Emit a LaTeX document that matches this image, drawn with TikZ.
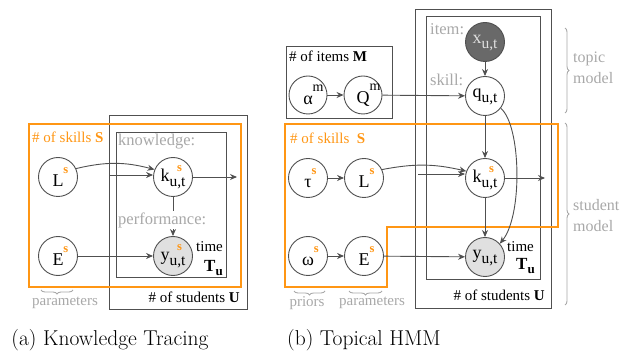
\documentclass[tikz,border=0pt]{standalone}
\usepackage{fontspec}
\setmainfont{Liberation Serif}
\newfontfamily\capfont{Latin Modern Roman}
\usetikzlibrary{arrows.meta,decorations.pathreplacing}

\definecolor{org}{RGB}{255,150,20}
\definecolor{lab}{RGB}{168,168,168}
\definecolor{ln}{RGB}{80,80,80}
\definecolor{obsgray}{RGB}{224,224,224}
\definecolor{itemgray}{RGB}{105,105,105}

% superscript / subscript helpers for the variable names
\newcommand\sS{{\fontsize{12.5}{12}\selectfont\bfseries\color{org}s}}
\newcommand\sM{{\fontsize{14}{14}\selectfont m}}
\newcommand\sUT{{\fontsize{15.5}{15}\selectfont u,t}}
\newcommand\gsup[2]{#1\rlap{\raisebox{0.72em}{#2}}}
\newcommand\gsub[3]{#1\rlap{\hspace{0.42em}\raisebox{0.56em}{#3}}\raisebox{-0.3em}{#2}}

\tikzset{
  var/.style={circle, draw=ln, line width=0.9pt, minimum size=39pt, inner sep=0pt,
    fill=white, font=\fontsize{18}{20}\selectfont},
  obs/.style={var, fill=obsgray},
  hid/.style={var, fill=itemgray, text=white!88!black},
  box/.style={draw=ln, line width=1pt},
  obox/.style={draw=org, line width=1.1pt},
  arr/.style={draw=ln, line width=0.9pt, -{Stealth[length=7pt,width=6pt]}},
  lbl/.style={text=lab, font=\fontsize{16.5}{18}\selectfont, inner sep=0pt},
  txt/.style={font=\fontsize{15}{17}\selectfont, inner sep=0pt},
  brc/.style={draw=lab, line width=0.9pt, decorate, decoration={brace, amplitude=4pt}},
}

\begin{document}
\begin{tikzpicture}[x=1pt,y=-1pt]
\useasboundingbox (0,0) rectangle (623,352);

% ---------- (a) Knowledge Tracing ----------
\draw[box] (109,116) rectangle (247,309);
\draw[box] (116,133) rectangle (226,278);
\draw[obox] (29,124) rectangle (241,287);

\node[var] (L1) at (58,177) {\gsup{L}{\sS}};
\node[var] (E1) at (58,256) {\gsup{E}{\sS}};
\node[var] (k1) at (173,177) {\gsub{k}{\sUT}{\sS}};
\node[obs] (y1) at (173,256) {\gsub{y}{\sUT}{\sS}};

\node[lbl, anchor=west] (kn1) at (118,142) {knowledge:};

\coordinate (kin1) at (109,175);
\coordinate (kout1) at (237,177);
\draw[arr] (L1.25) to[bend left=14] (k1.158);
\draw[arr] (kin1) -- (kin1 -| k1.west);
\draw[arr] (k1) -- (kout1);
\draw[arr] (k1) -- (y1);
\draw[arr] (E1) -- (y1);

\node[lbl, anchor=west, fill=white, inner sep=1pt] (pf1) at (117,220) {performance:};

\node[txt, anchor=west] (tm1) at (196,247) {time};
\node[txt, anchor=east, font=\fontsize{17}{17}\selectfont] (tu1) at (223,268) {\textbf{T}\raisebox{-0.25em}{\fontsize{13}{13}\selectfont\bfseries u}};

\node[txt, anchor=west, text=org] (sk1) at (32,137) {\# of skills \textbf{S}};
\node[txt, anchor=east] (st1) at (240,297) {\# of students \textbf{U}};

\draw[brc, decoration={mirror}] (41,290) -- (73,290);
\node[lbl, font=\fontsize{15}{17}\selectfont] (pa1) at (65,303) {parameters};

% ---------- (b) Topical HMM ----------
\draw[box] (415,10) rectangle (551,308);
\draw[box] (426,17) rectangle (540,280);
\draw[box] (286,47) rectangle (392,119);
\draw[obox] (285,124) -- (558,124) -- (558,227) -- (387,227)
  -- (387,287) -- (285,287) -- cycle;

\node[txt, anchor=west] (it2) at (289,56) {\# of items \textbf{M}};
\node[var, minimum size=38pt] (al2) at (308,95) {\gsup{α}{\sM}};
\node[var, minimum size=38pt] (Q2) at (363,95) {\gsup{Q}{\sM}};

\node[hid] (x2) at (485,42) {\gsub{x}{\sUT}{}};
\node[var] (q2) at (485,96) {\gsub{q}{\sUT}{}};
\node[var] (k2) at (485,178) {\gsub{k}{\sUT}{\sS}};
\node[obs] (y2) at (485,257) {\gsub{y}{\sUT}{}};

\node[lbl, anchor=west] (itl2) at (430,29) {item:};
\node[lbl, anchor=west] (skl2) at (430,80) {skill:};

\node[txt, anchor=west, text=org] (sk2) at (290,138) {\# of skills\ \ \textbf{S}};
\node[var] (ta2) at (308,178) {\gsup{τ}{\sS}};
\node[var] (L2) at (364,178) {\gsup{L}{\sS}};
\node[var] (om2) at (308,256) {\gsup{ω}{\sS}};
\node[var] (E2) at (364,256) {\gsup{E}{\sS}};

\coordinate (kin2) at (418,174);
\coordinate (kout2) at (545,178);
\draw[arr] (al2) -- (Q2);
\draw[arr] (Q2) -- (q2);
\draw[arr] (x2) -- (q2);
\draw[arr] (q2) -- (k2);
\draw[arr] (k2) -- (y2);
\draw[arr] (q2.-38) .. controls (521,125) and (523,215) .. (y2.42);
\draw[arr] (k2) -- (kout2);
\draw[arr] (kin2) -- (kin2 -| k2.west);
\draw[arr] (L2.25) to[bend left=12] (k2.160);
\draw[arr] (ta2) -- (L2);
\draw[arr] (om2) -- (E2);
\draw[arr] (E2) -- (y2);

\node[txt, anchor=west] (tm2) at (507,247) {time};
\node[txt, anchor=east, font=\fontsize{17}{17}\selectfont] (tu2) at (535,266) {\textbf{T}\raisebox{-0.25em}{\fontsize{13}{13}\selectfont\bfseries u}};
\node[txt, anchor=east] (st2) at (545,295) {\# of students \textbf{U}};

\draw[brc, decoration={mirror}] (294,291) -- (325,291);
\node[lbl, font=\fontsize{15}{17}\selectfont] (pr2) at (307,303) {priors};
\draw[brc, decoration={mirror}] (349,291) -- (382,291);
\node[lbl, font=\fontsize{15}{17}\selectfont] (pa2) at (372,303) {parameters};

\draw[brc] (565,28) -- (565,113);
\node[lbl, anchor=west, align=left, font=\fontsize{16}{21}\selectfont] (tp2) at (573,68) {topic\\model};
\draw[brc] (565,123) -- (565,305);
\node[lbl, anchor=west, align=left, font=\fontsize{16}{21}\selectfont] (sm2) at (573,216) {student\\model};

% ---------- captions ----------
\node[font=\capfont\fontsize{21.5}{23}\selectfont, inner sep=0pt, anchor=base] (ca) at (110,345) {(a) Knowledge Tracing};
\node[font=\capfont\fontsize{21.5}{23}\selectfont, inner sep=0pt, anchor=base] (cb) at (364,345) {(b) Topical HMM};
\end{tikzpicture}
\end{document}
